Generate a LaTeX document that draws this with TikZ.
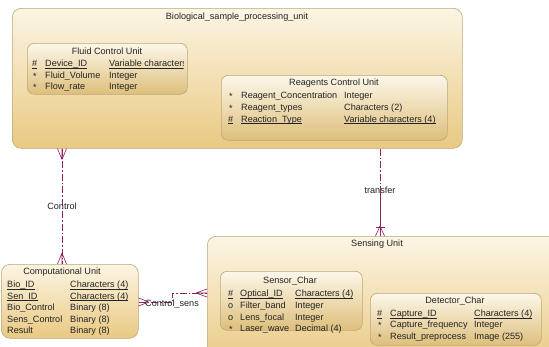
\documentclass[tikz,border=0pt]{standalone}
\usepackage{fontspec}
\setmainfont{Liberation Sans}
\usetikzlibrary{calc}
\definecolor{boxtop}{RGB}{252,245,228}
\definecolor{boxbot}{RGB}{233,201,130}
\definecolor{boxline}{RGB}{188,168,118}
\definecolor{rel}{RGB}{140,32,92}
\definecolor{txt}{RGB}{35,35,35}
\newcommand{\fs}{\fontsize{9.1}{10.5}\selectfont}
\newcommand{\ulx}[1]{\setbox0\hbox{#1}\rlap{\rule[-1.6pt]{\wd0}{0.5pt}}\box0}
\tikzset{
  ent/.style={draw=boxline, line width=0.6pt, rounded corners=9pt, top color=boxtop, bottom color=boxbot, anchor=north west, inner sep=0pt},
  sub/.style={draw=boxline, line width=0.6pt, rounded corners=7pt, top color=boxtop!80!white, bottom color=boxbot!95!black, anchor=north west, inner sep=0pt},
  ttl/.style={font=\fs, text=txt, inner sep=0pt, anchor=base},
  row/.style={font=\fs, text=txt, inner sep=0pt, anchor=base west},
  relline/.style={draw=rel, line width=0.6pt},
  reldash/.style={relline, dash pattern=on 7pt off 2pt on 1.5pt off 2pt},
}
\begin{document}
\begin{tikzpicture}[x=1pt,y=-1pt]
\useasboundingbox (0,0) rectangle (549,346);
\fill[white] (0,0) rectangle (549,346);
\clip (0,0) rectangle (549,346);

% Biological sample processing unit
\node[ent, minimum width=450pt, minimum height=140pt] (bio) at (12,8) {};
\node[ttl] (biot) at (237,19.5) {Biological\_sample\_processing\_unit};

% Fluid Control Unit
\node[sub, minimum width=160pt, minimum height=51pt] (fluid) at (27,43) {};
\node[ttl] (fluidt) at (107,54.5) {Fluid Control Unit};
\begin{scope}
\clip (27,43) rectangle (183.5,94);
\node[row] (f1a) at (32,66.5) {\ulx{\#}};
\node[row] (f1b) at (45,66.5) {\ulx{Device\_ID}};
\node[row] (f1c) at (109,66.5) {\ulx{Variable characters}};
\end{scope}
\node[row] (f2a) at (33,79) {*};
\node[row] (f2b) at (45,78) {Fluid\_Volume};
\node[row] (f2c) at (109,78) {Integer};
\node[row] (f3a) at (33,90.5) {*};
\node[row] (f3b) at (45,89.5) {Flow\_rate};
\node[row] (f3c) at (109,89.5) {Integer};

% Reagents Control Unit
\node[sub, minimum width=226pt, minimum height=65pt] (reag) at (221,75) {};
\node[ttl] (reagt) at (334,85.5) {Reagents Control Unit};
\node[row] (r1a) at (229,99.5) {*};
\node[row] (r1b) at (241,98.5) {Reagent\_Concentration};
\node[row] (r1c) at (344,98.5) {Integer};
\node[row] (r2a) at (229,111) {*};
\node[row] (r2b) at (241,110) {Reagent\_types};
\node[row] (r2c) at (344,110) {Characters (2)};
\node[row] (r3a) at (228,122) {\ulx{\#}};
\node[row] (r3b) at (241,122) {\ulx{Reaction\_Type}};
\node[row] (r3c) at (344,122) {\ulx{Variable characters (4)}};

% Computational Unit
\node[ent, minimum width=137pt, minimum height=74pt] (comp) at (1,264) {};
\node[ttl] (compt) at (62,274.5) {Computational Unit};
\node[row] (c1b) at (7,287.5) {\ulx{Bio\_ID}};
\node[row] (c1c) at (70,287.5) {\ulx{Characters (4)}};
\node[row] (c2b) at (7,299) {\ulx{Sen\_ID}};
\node[row] (c2c) at (70,299) {\ulx{Characters (4)}};
\node[row] (c3b) at (7,310.5) {Bio\_Control};
\node[row] (c3c) at (70,310.5) {Binary (8)};
\node[row] (c4b) at (7,322) {Sens\_Control};
\node[row] (c4c) at (70,322) {Binary (8)};
\node[row] (c5b) at (7,333.5) {Result};
\node[row] (c5c) at (70,333.5) {Binary (8)};

% Sensing Unit
\node[ent, minimum width=360pt, minimum height=130pt] (sens) at (207,236) {};
\node[ttl] (senst) at (377,246.5) {Sensing Unit};

% Sensor_Char
\node[sub, minimum width=142pt, minimum height=59pt] (sc) at (220,271) {};
\node[ttl] (sct) at (290,283.5) {Sensor\_Char};
\node[row] (s1a) at (228,296.5) {\ulx{\#}};
\node[row] (s1b) at (240,296.5) {\ulx{Optical\_ID}};
\node[row] (s1c) at (295,296.5) {\ulx{Characters (4)}};
\node[row] (s2a) at (228,308) {o};
\node[row] (s2b) at (240,308) {Filter\_band};
\node[row] (s2c) at (295,308) {Integer};
\node[row] (s3a) at (228,320) {o};
\node[row] (s3b) at (240,320) {Lens\_focal};
\node[row] (s3c) at (295,320) {Integer};
\node[row] (s4a) at (229,332.5) {*};
\node[row] (s4b) at (240,331.5) {Laser\_wave};
\node[row] (s4c) at (295,331.5) {Decimal (4)};

% Detector_Char
\node[sub, minimum width=171pt, minimum height=52pt] (dc) at (370,293) {};
\node[ttl] (dct) at (455,303.5) {Detector\_Char};
\node[row] (d1a) at (377,316.5) {\ulx{\#}};
\node[row] (d1b) at (390,316.5) {\ulx{Capture\_ID}};
\node[row] (d1c) at (474,316.5) {\ulx{Characters (4)}};
\node[row] (d2a) at (378,328.5) {*};
\node[row] (d2b) at (390,327.5) {Capture\_frequency};
\node[row] (d2c) at (474,327.5) {Integer};
\node[row] (d3a) at (378,340) {*};
\node[row] (d3b) at (390,339) {Result\_preprocess};
\node[row] (d3c) at (474,339) {Image (255)};

% Relationship: Control (bio -- comp)
\coordinate (ctop) at (bio.south -| 62,0);
\coordinate (cbot) at (comp.north -| 62,0);
\draw[reldash] (ctop) -- (cbot);
\draw[relline] ($(ctop)+(0,11)$) -- ($(ctop)+(-4.5,0)$) ($(ctop)+(0,11)$) -- ($(ctop)+(4.5,0)$) ($(ctop)+(0,11)$) -- (ctop);
\draw[relline] ($(cbot)+(0,-11)$) -- ($(cbot)+(-4.5,0)$) ($(cbot)+(0,-11)$) -- ($(cbot)+(4.5,0)$) ($(cbot)+(0,-11)$) -- (cbot);
\node[ttl] (ctl) at (62,209) {Control};

% Relationship: transfer (bio -- sens)
\coordinate (ttop) at (bio.south -| 380,0);
\coordinate (tmid) at (380,192);
\coordinate (tbot) at (sens.north -| 380,0);
\draw[reldash] (ttop) -- (tmid);
\draw[relline] (tmid) -- (tbot);
\draw[relline] ($(tbot)+(0,-10)$) -- ($(tbot)+(-4.5,0)$) ($(tbot)+(0,-10)$) -- ($(tbot)+(4.5,0)$);
\draw[relline] ($(tbot)+(-4.5,-9)$) -- ($(tbot)+(4.5,-9)$);
\node[ttl] (trl) at (380,193.5) {transfer};

% Relationship: Control_sens (comp -- sens)
\coordinate (sl) at (comp.east |- 0,302);
\coordinate (sk1) at (172,302);
\coordinate (sk2) at (172,293);
\coordinate (sr) at (sens.west |- 0,293);
\draw[reldash] (sl) -- (sk1) -- (sk2) -- (sr);
\draw[relline] ($(sl)+(10,0)$) -- ($(sl)+(0,-4)$) ($(sl)+(10,0)$) -- ($(sl)+(0,4)$);
\draw[relline] ($(sr)+(-11,0)$) -- ($(sr)+(0,-4)$) ($(sr)+(-11,0)$) -- ($(sr)+(0,4)$) ($(sr)+(-11,0)$) -- (sr);
\node[ttl] (csl) at (172,306.5) {Control\_sens};
\end{tikzpicture}
\end{document}
